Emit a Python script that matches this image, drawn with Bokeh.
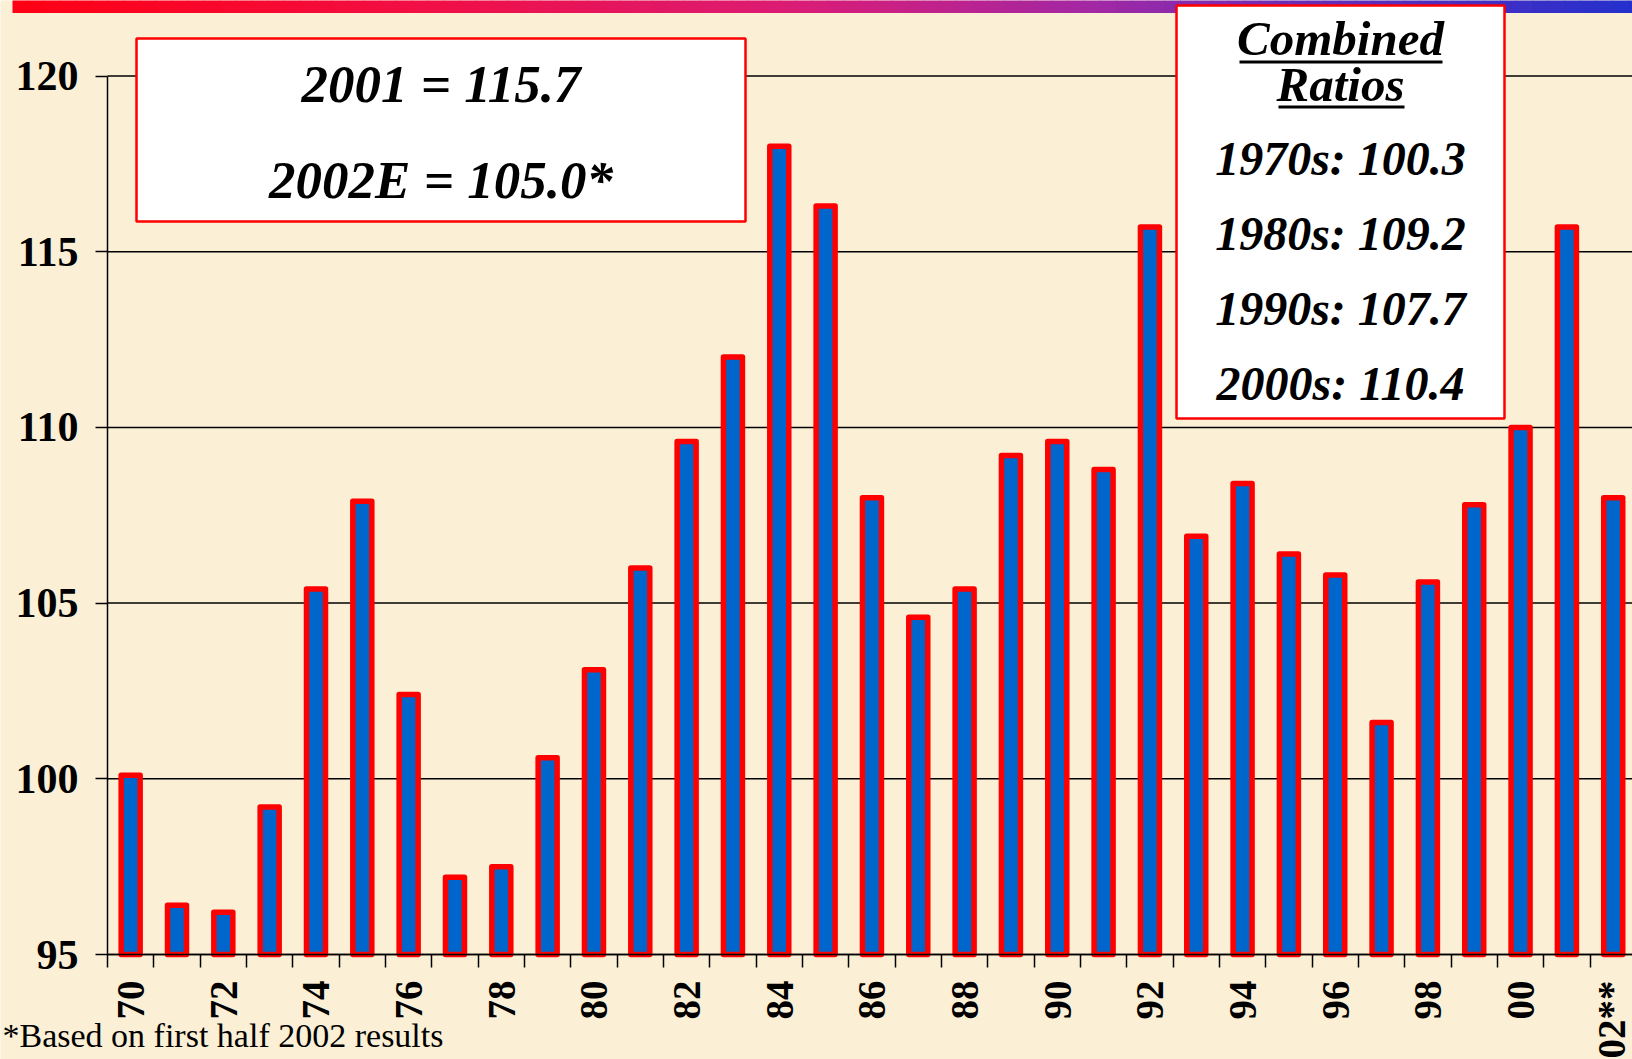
import math
from bokeh.plotting import figure
from bokeh.models import Range1d, FixedTicker, Label, ColumnDataSource
from bokeh.embed import file_html
from bokeh.resources import INLINE

# ---------------- data ----------------
years = ["70", "71", "72", "73", "74", "75", "76", "77", "78", "79",
         "80", "81", "82", "83", "84", "85", "86", "87", "88", "89",
         "90", "91", "92", "93", "94", "95", "96", "97", "98", "99",
         "00", "01", "02**"]
ratios = [100.1, 96.4, 96.2, 99.2, 105.4, 107.9, 102.4, 97.2, 97.5, 100.6,
          103.1, 106.0, 109.6, 112.0, 118.0, 116.3, 108.0, 104.6, 105.4, 109.2,
          109.6, 108.8, 115.7, 106.9, 108.4, 106.4, 105.8, 101.6, 105.6, 107.8,
          110.0, 115.7, 108.0]
y_ticks = [95, 100, 105, 110, 115, 120]
summary_names = ["2001", "2002E"]
summary_values = ["115.7", "105.0*"]
decades = ["1970s", "1980s", "1990s", "2000s"]
decade_avgs = ["100.3", "109.2", "107.7", "110.4"]
box_title = ["Combined", "Ratios"]
footnote = "*Based on first half 2002 results"

# ---------------- layout helpers (page pixels -> data) ----------------
FIG_W, FIG_H = 1632, 1059
X_LEFT_PX = 107.0       # page x of the y axis
CAT_PX = 46.33          # pixels per category
Y95_PX = 954.0          # page y of value 95
Y120_PX = 75.5          # page y of value 120
PX_PER_UNIT = (Y95_PX - Y120_PX) / 25.0


def DX(px):
    return -0.5 + (px - X_LEFT_PX) / CAT_PX


def DY(py):
    return 95 + (Y95_PX - py) / PX_PER_UNIT


BG = "#FBEFD6"
RED = "#FF0000"
BLUE = "#0066CC"
SERIF = "Liberation Serif"

x_end = DX(FIG_W)
p = figure(width=FIG_W, height=FIG_H,
           x_range=Range1d(DX(0), x_end),
           y_range=Range1d(DY(FIG_H), DY(0)),
           output_backend="svg", toolbar_location=None,
           min_border_left=0, min_border_right=0,
           min_border_top=0, min_border_bottom=0)
p.background_fill_color = BG
p.border_fill_color = BG
p.outline_line_color = None
p.xgrid.visible = False
p.ygrid.visible = False

# horizontal gridlines from the y axis to the right edge
p.segment(x0=[-0.5] * len(y_ticks), x1=[x_end] * len(y_ticks),
          y0=y_ticks, y1=y_ticks, line_color="black", line_width=1.5)

# y axis
yax = p.yaxis[0]
yax.fixed_location = -0.5
yax.ticker = FixedTicker(ticks=y_ticks)
yax.bounds = (95, 120)
yax.axis_line_color = "black"
yax.axis_line_width = 1.5
yax.major_tick_out = 12
yax.major_tick_in = 0
yax.major_tick_line_width = 1.5
yax.minor_tick_line_color = None
yax.major_label_standoff = 17
yax.major_label_text_font = SERIF
yax.major_label_text_font_style = "bold"
yax.major_label_text_font_size = "42px"
yax.major_label_text_color = "black"

# x axis
idx = list(range(len(years)))
even = [i for i in idx if i % 2 == 0]
xax = p.xaxis[0]
xax.fixed_location = 95
xax.bounds = (-0.5, x_end)
xax.ticker = FixedTicker(ticks=even, minor_ticks=[i - 0.5 for i in range(len(years) + 1)])
xax.major_label_overrides = {i: years[i] for i in even}
xax.major_label_orientation = math.pi / 2
xax.axis_line_color = "black"
xax.axis_line_width = 1.5
xax.major_tick_out = 0
xax.major_tick_in = 0
xax.major_tick_line_color = None
xax.minor_tick_out = 13
xax.minor_tick_in = 0
xax.minor_tick_line_color = "black"
xax.minor_tick_line_width = 1.5
xax.major_label_standoff = 13
xax.major_label_text_font = SERIF
xax.major_label_text_font_style = "bold"
xax.major_label_text_font_size = "39px"
xax.major_label_text_color = "black"

# bars
src = ColumnDataSource(dict(x=idx, top=ratios))
p.vbar(x="x", top="top", bottom=95, width=0.41, source=src,
       fill_color=BLUE, line_color=RED, line_width=5.5, line_join="round")

# top gradient band (decoration)
stops = [(0, (255, 0, 18)), (400, (242, 14, 66)), (800, (218, 28, 118)),
         (1100, (160, 40, 165)), (1300, (105, 44, 185)), (1632, (35, 48, 205))]


def grad(px):
    for (a, ca), (b, cb) in zip(stops[:-1], stops[1:]):
        if a <= px <= b:
            t = (px - a) / (b - a)
            c = [int(round(ca[k] + (cb[k] - ca[k]) * t)) for k in range(3)]
            return "#%02x%02x%02x" % tuple(c)
    return "#%02x%02x%02x" % stops[-1][1]


seg_l, seg_r, seg_c = [], [], []
px = 12.0
while px < FIG_W:
    seg_l.append(DX(px))
    seg_r.append(DX(px + 16.5))
    seg_c.append(grad(px + 8))
    px += 16
p.quad(left=seg_l, right=seg_r, top=DY(-2), bottom=DY(12.5), fill_color=seg_c,
       line_color=None)

# text boxes
p.quad(left=[DX(136), DX(1176)], right=[DX(745), DX(1504)],
       top=[DY(38), DY(5)], bottom=[DY(221), DY(418)],
       fill_color="white", line_color=RED, line_width=2.5)

for i, (n, v) in enumerate(zip(summary_names, summary_values)):
    p.add_layout(Label(x=DX(440.5), y=DY(83.5 + 95.5 * i), text=f"{n} = {v}",
                       text_align="center", text_baseline="middle",
                       text_font=SERIF, text_font_style="bold italic",
                       text_font_size="53px", text_color="black"))

for i, t in enumerate(box_title):
    p.add_layout(Label(x=DX(1340), y=DY(38 + 46 * i), text=t,
                       text_align="center", text_baseline="middle",
                       text_font=SERIF, text_font_style="bold italic",
                       text_font_size="49px", text_color="black"))
p.segment(x0=[DX(1239), DX(1278)], y0=[DY(61.5), DY(106.5)],
          x1=[DX(1442), DX(1404)], y1=[DY(61.5), DY(106.5)],
          line_color="black", line_width=3)

for i, (d, a) in enumerate(zip(decades, decade_avgs)):
    p.add_layout(Label(x=DX(1340), y=DY(157.5 + 75 * i), text=f"{d}: {a}",
                       text_align="center", text_baseline="middle",
                       text_font=SERIF, text_font_style="bold italic",
                       text_font_size="48px", text_color="black"))

# footnote
p.add_layout(Label(x=DX(2), y=DY(1035), text=footnote,
                   text_align="left", text_baseline="middle",
                   text_font=SERIF, text_font_size="34px", text_color="black"))

open("out.html", "w").write(file_html(p, INLINE))
